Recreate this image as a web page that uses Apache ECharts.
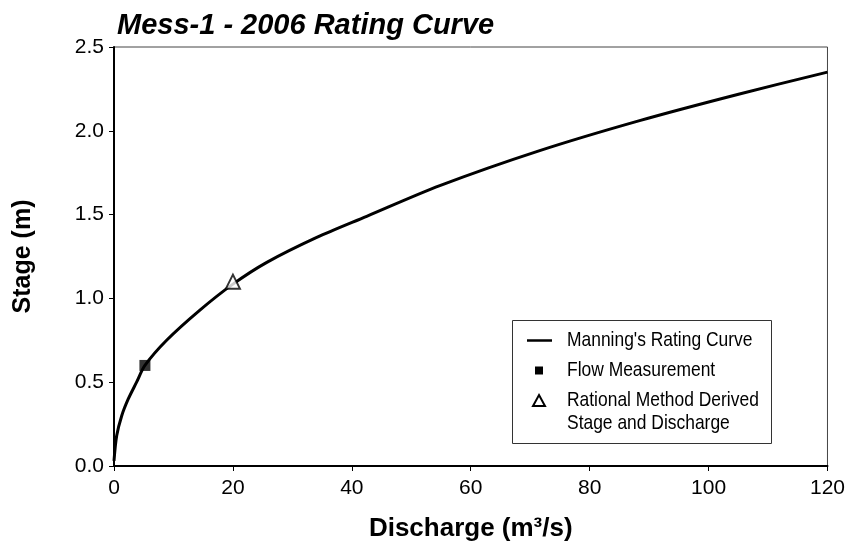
<!DOCTYPE html>
<html>
<head>
<meta charset="utf-8">
<script src="https://cdn.jsdelivr.net/npm/echarts@6/dist/echarts.min.js"></script>
<style>
  html, body { margin: 0; padding: 0; background: #fff; }
  #chart { width: 848px; height: 547px; }
</style>
</head>
<body>
<div id="chart"></div>
<script>
// Manning's rating curve: discharge (m³/s) and stage (m)
const curveDischarge = [0, 0.45, 1.3, 2.4, 3.8, 5.2, 8.85, 14.45, 20, 25.7, 34.1, 42.5, 54.8, 71.6, 88.4, 105.2, 120];
const curveStage     = [0.03, 0.18, 0.30, 0.40, 0.50, 0.60, 0.75, 0.93, 1.085, 1.215, 1.364, 1.49, 1.673, 1.882, 2.061, 2.22, 2.35];

// Measured flow
const flowDischarge = [5.2];
const flowStage = [0.6];

// Rational method derived stage and discharge
const rationalDischarge = [20];
const rationalStage = [1.1];

const xTicks = [0, 20, 40, 60, 80, 100, 120];
const yTicks = ['0.0', '0.5', '1.0', '1.5', '2.0', '2.5'];

const legendLabels = ["Manning's Rating Curve", "Flow Measurement", "Rational Method Derived", "Stage and Discharge"];

const zip = (a, b) => a.map((v, i) => [v, b[i]]);

const FONT = "'Liberation Sans', Arial, sans-serif";

// condensed legend text
const legendText = (label, y) => ({
  type: 'text', x: 567, y: y, scaleX: 0.83,
  style: { text: label, font: '21px ' + FONT, fill: '#000', verticalAlign: 'middle' }, z: 11
});

const chart = echarts.init(document.getElementById('chart'));
chart.setOption({
  animation: false,
  backgroundColor: '#fff',
  title: {
    text: 'Mess-1 - 2006 Rating Curve',
    left: 112, top: 6,
    textStyle: { fontFamily: FONT, fontSize: 29, fontWeight: 'bold', fontStyle: 'italic', color: '#000' }
  },
  grid: { left: 114, right: 20, top: 47, bottom: 80, show: true, borderColor: '#444', borderWidth: 1 },
  xAxis: {
    type: 'value', min: 0, max: 120, interval: 20,
    name: 'Discharge (m³/s)', nameLocation: 'middle', nameGap: 50,
    nameTextStyle: { fontFamily: FONT, fontSize: 26, fontWeight: 'bold', color: '#000' },
    axisLine: { lineStyle: { color: '#000', width: 2 } },
    axisTick: { show: true, length: 5, lineStyle: { color: '#000', width: 1 } },
    axisLabel: { fontFamily: FONT, fontSize: 21, color: '#000', margin: 12,
      formatter: v => String(xTicks[xTicks.indexOf(v)]) },
    splitLine: { show: false }
  },
  yAxis: {
    type: 'value', min: 0, max: 2.5, interval: 0.5,
    name: 'Stage (m)', nameLocation: 'middle', nameGap: 78, nameRotate: 90,
    nameTextStyle: { fontFamily: FONT, fontSize: 25, fontWeight: 'bold', color: '#000' },
    axisLine: { lineStyle: { color: '#000', width: 2 } },
    axisTick: { show: true, length: 5, lineStyle: { color: '#000', width: 1 } },
    axisLabel: { fontFamily: FONT, fontSize: 21, color: '#000', margin: 10,
      formatter: v => yTicks[Math.round(v / 0.5)] },
    splitLine: { show: false }
  },
  series: [
    {
      name: legendLabels[0], type: 'line', data: zip(curveDischarge, curveStage),
      smooth: 0.3, symbol: 'none', lineStyle: { color: '#000', width: 3 }, z: 2
    },
    {
      name: legendLabels[1], type: 'scatter', data: zip(flowDischarge, flowStage),
      symbol: 'rect', symbolSize: 11, itemStyle: { color: '#000' }, z: 3
    },
    {
      name: legendLabels[2], type: 'scatter', data: zip(rationalDischarge, rationalStage),
      symbol: 'triangle', symbolSize: 14,
      itemStyle: { color: '#fff', borderColor: '#000', borderWidth: 2 }, z: 3
    }
  ],
  graphic: [
    { type: 'rect', left: 512, top: 320, shape: { width: 259, height: 123 },
      style: { fill: '#fff', stroke: '#333', lineWidth: 1 }, z: 10 },
    { type: 'line', shape: { x1: 527, y1: 340.5, x2: 552, y2: 340.5 },
      style: { stroke: '#000', lineWidth: 2.5 }, z: 11 },
    { type: 'rect', shape: { x: 535, y: 366.5, width: 8, height: 8 },
      style: { fill: '#000' }, z: 11 },
    { type: 'polygon', shape: { points: [[539, 395], [545, 406], [533, 406]] },
      style: { fill: '#fff', stroke: '#000', lineWidth: 2 }, z: 11 },
    legendText(legendLabels[0], 340.5),
    legendText(legendLabels[1], 370.5),
    legendText(legendLabels[2], 400.5),
    legendText(legendLabels[3], 423.5)
  ]
});
</script>
</body>
</html>
